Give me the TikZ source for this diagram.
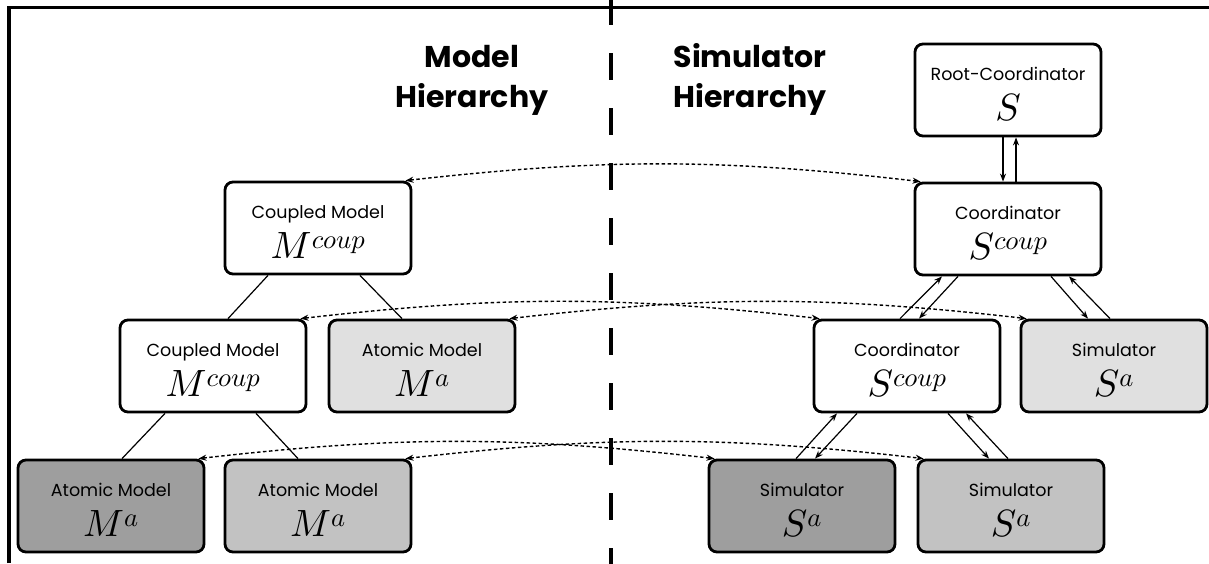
\documentclass[tikz,border=0pt]{standalone}
\usepackage{fontspec}
\setmainfont{Poppins}
\DeclareFontFamily{OML}{mycmm}{\skewchar\font127 }
\DeclareFontShape{OML}{mycmm}{m}{it}{<->cmmi10}{}
\DeclareSymbolFont{letters}{OML}{mycmm}{m}{it}
\usetikzlibrary{arrows.meta,calc}
\tikzset{
  box/.style={draw, line width=2.8pt, rounded corners=8pt, minimum width=186pt, minimum height=92pt, inner sep=0pt},
  ttl/.style={font=\fontsize{17.5}{20}\selectfont, inner sep=0pt, anchor=base},
  mth/.style={font=\fontsize{38}{40}\selectfont, inner sep=0pt, anchor=base},
  head/.style={font=\fontsize{30}{40}\selectfont\bfseries, inner sep=0pt, anchor=base},
  sarr/.style={line width=1.2pt, -{Stealth[length=8pt,width=6pt,inset=2.5pt]}},
  link/.style={line width=1.2pt},
  dotarr/.style={line width=1.4pt, dash pattern=on 3.5pt off 2.5pt, {Stealth[length=8pt,width=6pt,inset=2.5pt]}-{Stealth[length=8pt,width=6pt,inset=2.5pt]}},
  frame/.style={line width=3.5pt},
  divider/.style={line width=3.5pt, dash pattern=on 27pt off 28pt}
}
\newcommand\dbox[6]{%
  \node[box,fill=#4] (#1) at (#2,#3) {};
  \node[ttl] (#1t) at ($(#1)+(0,10)$) {#5};
  \node[mth] (#1m) at ($(#1)+(0,-30)$) {#6};
}
\begin{document}
\begin{tikzpicture}[x=1pt,y=1pt]
\useasboundingbox (0,0) rectangle (1209,-563);
\fill[white] (0,0) rectangle (1209,-563);
% frame and divider
\draw[frame] (9,-563) -- (9,-7.5) -- (1209,-7.5);
\draw[divider] (611,2) -- (611,-570);
% headings
\node[head] (mh1) at (472,-67) {Model};
\node[head] (mh2) at (472,-107) {Hierarchy};
\node[head] (sh1) at (750,-67) {Simulator};
\node[head] (sh2) at (750,-107) {Hierarchy};
% model hierarchy
\dbox{cm1}{318}{-228}{white}{Coupled Model}{$M^{coup}$}
\dbox{cm2}{213}{-366}{white}{Coupled Model}{$M^{coup}$}
\dbox{am1}{422}{-366}{black!12}{Atomic Model}{$M^{a}$}
\dbox{am2}{111}{-506}{black!38}{Atomic Model}{$M^{a}$}
\dbox{am3}{318}{-506}{black!24}{Atomic Model}{$M^{a}$}
% simulator hierarchy
\dbox{root}{1008}{-90}{white}{Root-Coordinator}{$S$}
\dbox{co1}{1008}{-229}{white}{Coordinator}{$S^{coup}$}
\dbox{co2}{907}{-366}{white}{Coordinator}{$S^{coup}$}
\dbox{s1}{1114}{-366}{black!12}{Simulator}{$S^{a}$}
\dbox{s2}{802}{-506}{black!38}{Simulator}{$S^{a}$}
\dbox{s3}{1011}{-506}{black!24}{Simulator}{$S^{a}$}
% model links
\draw[link] ($(cm1.south)+(-50,0)$) -- ($(cm2.north)+(15,0)$);
\draw[link] ($(cm1.south)+(42,0)$) -- ($(am1.north)+(-20,0)$);
\draw[link] ($(cm2.south)+(-48,0)$) -- ($(am2.north)+(11,0)$);
\draw[link] ($(cm2.south)+(43,0)$) -- ($(am3.north)+(-20,0)$);
% simulator message arrows
\draw[sarr] ($(root.south)+(-5,0)$) -- ($(co1.north)+(-5,0)$);
\draw[sarr] ($(co1.north)+(8,0)$) -- ($(root.south)+(8,0)$);
\draw[sarr] ($(co2.north)+(-7,0)$) -- ($(co1.south)+(-66,0)$);
\draw[sarr] ($(co1.south)+(-50,0)$) -- ($(co2.north)+(12,0)$);
\draw[sarr] ($(co1.south)+(43,0)$) -- ($(s1.north)+(-26,0)$);
\draw[sarr] ($(s1.north)+(-4,0)$) -- ($(co1.south)+(61,0)$);
\draw[sarr] ($(s2.north)+(-6,0)$) -- ($(co2.south)+(-70,0)$);
\draw[sarr] ($(co2.south)+(-50,0)$) -- ($(s2.north)+(13,0)$);
\draw[sarr] ($(co2.south)+(41,0)$) -- ($(s3.north)+(-22,0)$);
\draw[sarr] ($(s3.north)+(-3,0)$) -- ($(co2.south)+(59,0)$);
% correspondence arcs
\draw[dotarr] ([xshift=-7pt]cm1.north east) to[bend left=6.5] ([xshift=7pt]co1.north west);
\draw[dotarr] ([xshift=-7pt]cm2.north east) to[bend left=6.5] ([xshift=7pt]co2.north west);
\draw[dotarr] ([xshift=-7pt]am1.north east) to[bend left=6.5] ([xshift=7pt]s1.north west);
\draw[dotarr] ([xshift=-7pt]am2.north east) to[bend left=6.5] ([xshift=7pt]s2.north west);
\draw[dotarr] ([xshift=-7pt]am3.north east) to[bend left=6.5] ([xshift=7pt]s3.north west);
\end{tikzpicture}
\end{document}
